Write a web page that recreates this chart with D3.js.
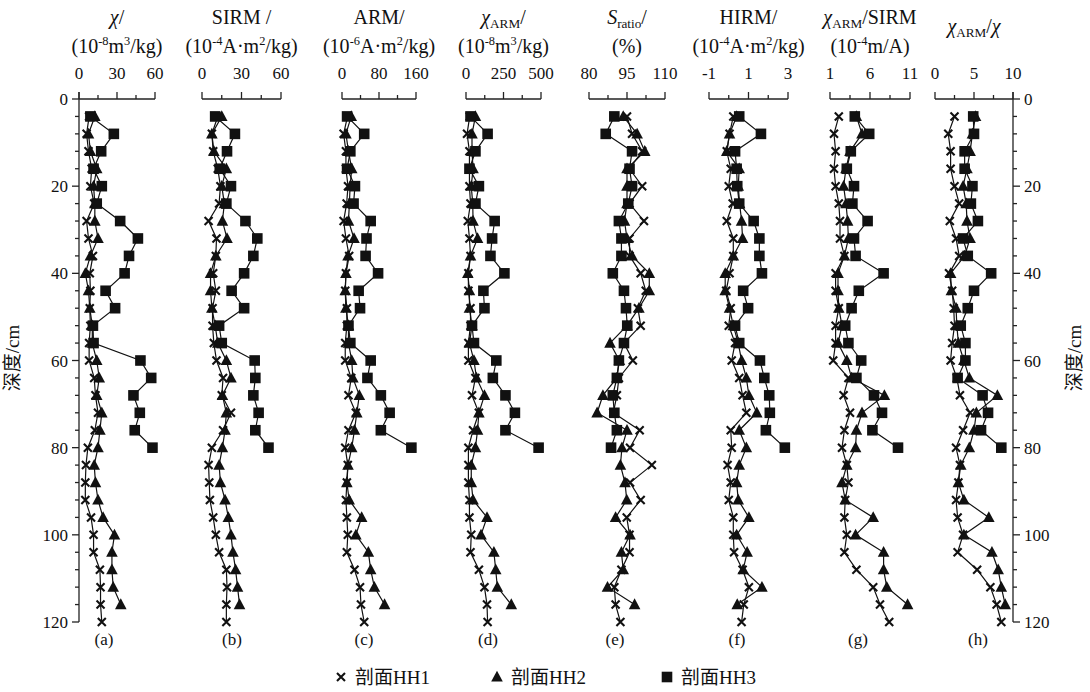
<!DOCTYPE html>
<html><head><meta charset="utf-8">
<script src="https://cdn.jsdelivr.net/npm/d3@7"></script>
<style>
html,body{margin:0;padding:0;background:#fff;}
svg{display:block;}
text{font-family:"Liberation Serif","Noto Sans CJK SC",serif;fill:#111;}
</style></head>
<body>
<svg id="chart" width="1090" height="692"></svg>
<script>
// ---------- DATA ----------
const depthHH1 = [4,8,12,16,20,24,28,32,36,40,44,48,52,56,60,64,68,72,76,80,84,88,92,96,100,104,108,112,116,120];
const depthHH2 = [4,8,12,16,20,24,28,32,36,40,44,48,52,56,60,64,68,72,76,80,84,88,92,96,100,104,108,112,116];
const depthHH3 = [4,8,12,16,20,24,28,32,36,40,44,48,52,56,60,64,68,72,76,80];
const depthTicks = [0,20,40,60,80,100,120];
const seriesNames = ["剖面HH1","剖面HH2","剖面HH3"];
const panelLetters = ["(a)","(b)","(c)","(d)","(e)","(f)","(g)","(h)"];

// (a) χ
const chiHH1 = [8,6,7.5,10,9,12,6,7.5,11,8.5,9,8.5,9,8,8,12,13,15,12.5,7,5.5,5,5,9.5,11.5,11.5,16.5,17,17,18];
const chiHH2 = [12.5,7.5,9,14,11.5,12.5,12.5,15,9,5,7.5,8.5,10.5,10.5,14,16,14,18,16.5,15,12,13,15,19,28,26,26,27,33];
const chiHH3 = [9,27.5,17.5,11.5,18,14,32.5,46.5,39.5,36,21,28.5,11,11.5,48.5,57,43,48,44,58];
const chiTicks = [0,30,60];
// (b) SIRM
const sirmHH1 = [12,7.5,8.5,12,14,13,5,11,10.5,8.5,10.5,8,8,9,11,16,15,22,16,7.5,5,5.5,6,8.5,10.5,13,18.5,19,18.5,18.5];
const sirmHH2 = [15,7.5,9,18.5,15,17,15.5,19,10.5,6.5,6.5,7.5,10,12,18.5,22,15.5,18.5,17.5,15.5,13,14,17.5,20,22,23.5,25.5,27,28.5];
const sirmHH3 = [10,25,19,13.5,22,18.5,33,42,39,32,22.5,32,13,15,40,40.5,39,43,40.5,50.5];
const sirmTicks = [0,30,60];
// (c) ARM
const armHH1 = [12,3.5,8.5,8.5,13,10,3.5,8.5,15.5,8.5,7,10.5,10.5,7,7,20,14,30,14,7,12.5,10.5,8.5,10.5,12.5,10.5,27,39,41,48];
const armHH2 = [20,8.5,14,21,17.5,16,14,26,13,8.5,7,8.5,14,14,21,23.5,37.5,32,27,21,13,10.5,15.5,42.5,30,57,62,70,92];
const armHH3 = [11,48,18,11,28,25,62,53,51,78,36,39,14,18,62,55,84,103,84,150];
const armTicks = [0,80,160];
// (d) χARM
const chiArmHH1 = [25,7,23,23,23,30,12,23,30,16,16,30,30,16,16,63,40,86,47,16,16,16,23,23,35,30,86,123,140,144];
const chiArmHH2 = [63,40,40,47,35,45,47,77,30,12,23,23,40,23,53,70,123,86,77,63,35,35,47,140,100,186,198,209,302];
const chiArmHH3 = [30,144,63,23,86,63,191,174,163,256,116,123,40,53,202,179,263,326,263,484];
const chiArmTicks = [0,250,500];
// (e) S-ratio
const sRatioHH1 = [95,97,101,96,101,96,101.7,96,96,100.4,102.4,99.3,100.4,93.8,97.3,91.8,91,89.6,100,96.2,104.8,96.2,100.4,94.9,96,96,92.8,90,90.5,92.4];
const sRatioHH2 = [93.5,99,102,95,95,95,94,95,97,103.8,103.8,99.7,95,88.3,92,91,85.5,83.2,95,93,92.4,94.2,94.9,90.5,96.2,92.8,93.5,87.3,98];
const sRatioHH3 = [90,86.6,97,96,97,95.5,91.8,92.8,92.8,89.4,93.8,94.6,95.1,93.8,91.8,91,89.4,90,91,88.7];
const sRatioTicks = [80,95,110];
// (f) HIRM
const hirmHH1 = [0.23,0.04,-0.1,0.1,0,0.2,-0.1,0.23,0.23,0.04,-0.13,0.1,0,0.32,0.15,0.53,0.7,0.89,0.1,0.15,-0.06,0.1,0,0.23,0.23,0.27,0.7,1.02,0.76,0.65];
const hirmHH2 = [0.4,0.04,-0.1,0.53,0.48,0.55,0.65,0.7,0.23,-0.18,-0.18,0.04,0.23,0.48,0.65,0.89,1.02,1.42,0.53,0.89,0.53,0.4,0.48,1.02,0.4,0.93,0.73,1.68,0.43];
const hirmHH3 = [0.53,1.63,0.32,0.4,0.43,0.53,1.26,1.55,1.55,1.68,0.73,0.98,0.32,0.53,1.58,1.8,2.05,2.08,1.88,2.84];
const hirmTicks = [-1,1,3];
// (g) χARM/SIRM
const armSirmHH1 = [2.1,1.5,1.7,1.5,1.7,2.1,2.25,2.25,2.8,1.7,1.7,2.1,1.7,1.7,1.4,3.3,2.7,3.5,2.8,2.5,3.1,3.3,2.9,2.8,3.1,2.8,4.3,6.4,7.25,8.4];
const armSirmHH2 = [4.3,5,3.5,3,2.7,3,3.2,3.3,2.8,2,2,2.1,2.5,2,3.1,3.7,7.8,5,4.3,4.2,3.1,2.5,2.9,6.4,4.2,7.7,7.7,8.1,10.7];
const armSirmHH3 = [4.1,5.9,3.6,3.1,4,3.8,5.7,4,4.2,7.7,4.6,3.7,2.9,3.3,4.9,4.3,6.5,7.5,6.3,9.5];
const armSirmTicks = [1,6,11];
// (h) χARM/χ
const armChiHH1 = [2.5,1.7,2,2,2.5,3.1,1.9,2.7,3.1,1.8,2.2,2.4,2.5,2.2,2,2.8,3.2,4.5,3.6,2.7,3.2,3,2.7,2.9,3.6,2.9,5.4,7.1,7.9,8.5];
const armChiHH2 = [5.2,4.8,4.5,4.1,3.6,4,4.1,4.5,3.8,2,2.1,2.7,2.8,3,3.7,4.4,8,5.3,5,4.4,3.3,3,3.7,6.9,3.7,7.3,8.1,8.5,9];
const armChiHH3 = [4.9,5,3.8,3.8,4.8,4.6,5.5,3.6,4.2,7.2,5,4.2,3.3,3.9,3.9,2.9,6.1,6.8,5.9,8.5];
const armChiTicks = [0,5,10];

// ---------- LAYOUT ----------
const yTop = 99, yBot = 622;
const y = d3.scaleLinear().domain([0,120]).range([yTop, yBot]);

const panels = [
  {x0:79, x1:155, ticks:chiTicks, data:[chiHH1,chiHH2,chiHH3], lab:25,
   t1:[["χ","i"],["/","n"]], t2:[["(10","n"],["-8","sup"],["m","n"],["3","sup"],["/kg)","n"]]},
  {x0:202, x1:281, ticks:sirmTicks, data:[sirmHH1,sirmHH2,sirmHH3], lab:30,
   t1:[["SIRM /","n"]], t2:[["(10","n"],["-4","sup"],["A·m","n"],["2","sup"],["/kg)","n"]]},
  {x0:342, x1:416, ticks:armTicks, data:[armHH1,armHH2,armHH3], lab:22,
   t1:[["ARM/","n"]], t2:[["(10","n"],["-6","sup"],["A·m","n"],["2","sup"],["/kg)","n"]]},
  {x0:466, x1:541, ticks:chiArmTicks, data:[chiArmHH1,chiArmHH2,chiArmHH3], lab:22,
   t1:[["χ","i"],["ARM","sub"],["/","n"]], t2:[["(10","n"],["-8","sup"],["m","n"],["3","sup"],["/kg)","n"]]},
  {x0:589, x1:665, ticks:sRatioTicks, data:[sRatioHH1,sRatioHH2,sRatioHH3], lab:26,
   t1:[["S","i"],["ratio","sub"],["/","n"]], t2:[["(%)","n"]]},
  {x0:709, x1:788, ticks:hirmTicks, data:[hirmHH1,hirmHH2,hirmHH3], lab:28,
   t1:[["HIRM/","n"]], t2:[["(10","n"],["-4","sup"],["A·m","n"],["2","sup"],["/kg)","n"]]},
  {x0:830, x1:910, ticks:armSirmTicks, data:[armSirmHH1,armSirmHH2,armSirmHH3], lab:28,
   t1:[["χ","i"],["ARM","sub"],["/SIRM","n"]], t2:[["(10","n"],["-4","sup"],["m/A)","n"]]},
  {x0:935, x1:1013, ticks:armChiTicks, data:[armChiHH1,armChiHH2,armChiHH3], lab:43,
   t1:[["χ","i"],["ARM","sub"],["/","n"],["χ","i"]], t2:null, t1y:33}
];
const depths = [depthHH1, depthHH2, depthHH3];

const svg = d3.select("#chart");

function rich(sel, parts, size){
  let shift = 0;
  parts.forEach(([t, s]) => {
    const ts = sel.append("tspan").text(t);
    let target = 0, fs = size;
    if (s === "sup") { target = -size*0.4; fs = size*0.62; }
    if (s === "sub") { target = size*0.22; fs = size*0.66; }
    if (s === "i") ts.attr("font-style","italic");
    ts.attr("font-size", fs).attr("dy", target - shift);
    shift = target;
  });
}

function marker(g, type, cx, cy){
  if (type === 0) {
    const r = 4;
    g.append("path")
      .attr("d", `M${cx-r},${cy-r}L${cx+r},${cy+r}M${cx-r},${cy+r}L${cx+r},${cy-r}`)
      .attr("stroke","#111").attr("stroke-width",2.1).attr("fill","none");
  } else if (type === 1) {
    g.append("path").attr("d", `M${cx},${cy-6.2}L${cx+5.8},${cy+4.6}L${cx-5.8},${cy+4.6}Z`).attr("fill","#111");
  } else {
    g.append("rect").attr("x",cx-5.3).attr("y",cy-5.3).attr("width",10.6).attr("height",10.6).attr("fill","#111");
  }
}

panels.forEach((p, i) => {
  const x = d3.scaleLinear().domain([p.ticks[0], p.ticks[2]]).range([p.x0, p.x1]);
  const g = svg.append("g");
  g.append("line").attr("x1",p.x0).attr("x2",p.x1).attr("y1",yTop).attr("y2",yTop)
    .attr("stroke","#222").attr("stroke-width",1.3);
  const step = (p.ticks[2]-p.ticks[0])/4;
  for (let k=0;k<=4;k++){
    const v = p.ticks[0] + k*step;
    const len = (k%2===0) ? 7 : 4;
    g.append("line").attr("x1",x(v)).attr("x2",x(v)).attr("y1",yTop).attr("y2",yTop-len)
      .attr("stroke","#222").attr("stroke-width",1.3);
  }
  p.ticks.forEach(v => {
    g.append("text").attr("x",x(v)).attr("y",79).attr("text-anchor","middle")
      .attr("font-size",17).text(v);
  });
  const cx = (p.x0+p.x1)/2;
  rich(g.append("text").attr("x",cx).attr("y",p.t1y||24).attr("text-anchor","middle"), p.t1, 20);
  if (p.t2) rich(g.append("text").attr("x",cx).attr("y",53).attr("text-anchor","middle"), p.t2, 20);
  g.append("text").attr("x",p.x0+p.lab).attr("y",645).attr("text-anchor","middle")
    .attr("font-size",17).text(panelLetters[i]);
  const line = d3.line().x(d=>x(d[0])).y(d=>y(d[1]));
  p.data.forEach((vals, s) => {
    const pts = vals.map((v,j)=>[v, depths[s][j]]);
    g.append("path").attr("d", line(pts)).attr("fill","none").attr("stroke","#111").attr("stroke-width",1.2);
  });
  p.data.forEach((vals, s) => {
    vals.forEach((v,j)=> marker(g, s, x(v), y(depths[s][j])));
  });
});

const allDepthTicks = d3.range(0, 121, 4);
function depthAxis(xa, dir){
  const g = svg.append("g");
  g.append("line").attr("x1",xa).attr("x2",xa).attr("y1",yTop-7).attr("y2",yBot)
    .attr("stroke","#222").attr("stroke-width",1.3);
  allDepthTicks.forEach(d => {
    const major = depthTicks.includes(d);
    const len = major ? 7 : 4;
    g.append("line").attr("x1",xa).attr("x2",xa+dir*len).attr("y1",y(d)).attr("y2",y(d))
      .attr("stroke","#222").attr("stroke-width",1.3);
  });
  depthTicks.forEach(d => {
    g.append("text").attr("x", xa + dir*11).attr("y", y(d)+6)
      .attr("text-anchor", dir<0 ? "end" : "start").attr("font-size",17).text(d);
  });
}
depthAxis(79, -1);
depthAxis(1013, 1);

svg.append("text").attr("transform","translate(19,358) rotate(-90)").attr("text-anchor","middle")
  .attr("font-size",19).text("深度/cm");
svg.append("text").attr("transform","translate(1081,358) rotate(-90)").attr("text-anchor","middle")
  .attr("font-size",19).text("深度/cm");

const legX = [341, 497, 667];
seriesNames.forEach((n, s) => {
  const lg = svg.append("g");
  marker(lg, s, legX[s], 677);
  lg.append("text").attr("x", legX[s]+14).attr("y", 684).attr("font-size",19).text(n);
});
</script>
</body></html>
